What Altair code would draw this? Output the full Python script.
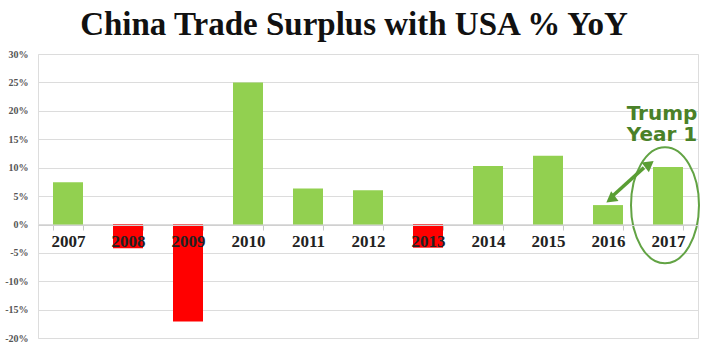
import altair as alt
import pandas as pd

years = ["2007", "2008", "2009", "2010", "2011", "2012", "2013", "2014", "2015", "2016", "2017"]
values = [0.074, -0.042, -0.171, 0.250, 0.063, 0.060, -0.041, 0.103, 0.121, 0.034, 0.101]
y_ticks = [-0.20, -0.15, -0.10, -0.05, 0.0, 0.05, 0.10, 0.15, 0.20, 0.25, 0.30]
note_lines = ["Trump", "Year 1"]
note_y = [0.195, 0.157]

df = pd.DataFrame({"year": years, "value": values})

GREEN = "#92d050"
RED = "#ff0000"
DARK_GREEN = "#4a8128"
ARROW = "#5a9e34"

xscale = alt.Scale(domain=years, paddingInner=0.5, paddingOuter=0.25)
yscale = alt.Scale(domain=[-0.20, 0.30], nice=False, zero=False)

base = alt.Chart(df)

bars = base.mark_bar().encode(
    x=alt.X("year:N", scale=xscale, sort=years,
            axis=alt.Axis(title=None, labelAngle=0, offset=-113, tickBand="extent",
                          ticks=True, tickSize=5, tickColor="#c8c8c8",
                          domainColor="#d0d0d0", labelFont="Liberation Serif",
                          labelFontWeight="bold", labelFontSize=17, labelColor="#222222",
                          labelPadding=3, zindex=1, grid=False)),
    y=alt.Y("value:Q", scale=yscale,
            axis=alt.Axis(title=None, values=y_ticks, domain=False, ticks=False,
                          labelOverlap=False, tickCount=11,
                          gridColor="#dcdcdc", gridWidth=1,
                          labelExpr="(datum.value < -0.0001 ? '-' : '') + format(abs(datum.value), '.0%')",
                          labelFont="Liberation Serif", labelFontWeight="bold",
                          labelFontSize=10, labelColor="#555555", labelPadding=10)),
    color=alt.condition("datum.value >= 0", alt.value(GREEN), alt.value(RED)),
)

ann = pd.DataFrame({"year": ["2017", "2017"], "txt": note_lines, "y": note_y})
note = alt.Chart(ann).mark_text(font="DejaVu Sans", fontWeight="bold", fontSize=20,
                                color=DARK_GREEN, xOffset=-6).encode(
    x=alt.X("year:N", scale=xscale, sort=years),
    y=alt.Y("y:Q", scale=yscale),
    text="txt:N",
)

ell_df = pd.DataFrame({"year": ["2017"], "y": [0.0335]})
ellipse = alt.Chart(ell_df).mark_point(
    shape="M-0.586,0 A0.586,1 0 1,1 0.586,0 A0.586,1 0 1,1 -0.586,0 Z",
    size=13456, filled=False, stroke="#62a344", strokeWidth=2, opacity=1, xOffset=-3,
).encode(
    x=alt.X("year:N", scale=xscale, sort=years),
    y=alt.Y("y:Q", scale=yscale),
)

arr_df = pd.DataFrame({"year": ["2016"], "year2": ["2017"], "y": [0.049], "y2": [0.100]})
arrow_line = alt.Chart(arr_df).mark_rule(color=ARROW, strokeWidth=3.5, xOffset=4, x2Offset=-24).encode(
    x=alt.X("year:N", scale=xscale, sort=years),
    x2="year2:N",
    y=alt.Y("y:Q", scale=yscale),
    y2="y2:Q",
)
head_df = pd.DataFrame({"year": ["2016", "2017"], "y": [0.046, 0.104]})
heads_a = alt.Chart(head_df[head_df.year == "2016"]).mark_point(
    shape="triangle", filled=True, size=150, color=ARROW, opacity=1, angle=233, xOffset=4,
).encode(x=alt.X("year:N", scale=xscale, sort=years), y=alt.Y("y:Q", scale=yscale))
heads_b = alt.Chart(head_df[head_df.year == "2017"]).mark_point(
    shape="triangle", filled=True, size=150, color=ARROW, opacity=1, angle=53, xOffset=-20,
).encode(x=alt.X("year:N", scale=xscale, sort=years), y=alt.Y("y:Q", scale=yscale))

chart = alt.layer(bars, ellipse, arrow_line, heads_a, heads_b, note).properties(
    width=660, height=284,
    title=alt.TitleParams("China Trade Surplus with USA % YoY", font="Liberation Serif",
                          fontSize=33, fontWeight="bold", color="#111111",
                          anchor="middle", offset=7, dx=-14),
    autosize=alt.AutoSizeParams(type="none"),
    padding={"left": 38, "top": 54, "right": 18, "bottom": 16},
).configure_view(stroke=None).configure(background="white")

chart.save("out.html", embed_options={"renderer": "svg", "actions": False})
